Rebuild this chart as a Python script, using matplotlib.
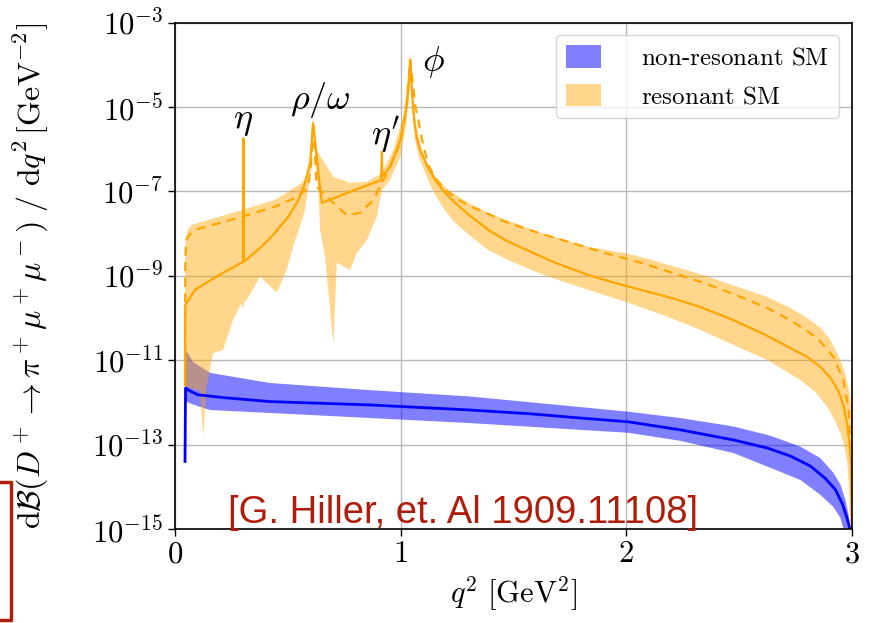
"""D+ -> pi+ mu+ mu- differential branching fraction: resonant vs non-resonant SM."""

import matplotlib

matplotlib.use("Agg")
import matplotlib.pyplot as plt
import numpy as np
from matplotlib.lines import Line2D
from matplotlib.patches import Patch

plt.rcParams["font.family"] = "serif"
plt.rcParams["font.serif"] = ["cmr10", "DejaVu Serif"]
plt.rcParams["mathtext.fontset"] = "cm"
plt.rcParams["axes.formatter.use_mathtext"] = True

# ── data (q^2 in GeV^2, values as log10 of dB/dq^2) ──────────────────────────
# non-resonant SM: central line and band edges
nr_q = [0.0443, 0.0466, 0.0665, 0.102, 0.222, 0.421, 0.865, 1.308, 1.574,
        1.796, 2.009, 2.239, 2.475, 2.624, 2.727, 2.816, 2.882, 2.927, 2.958,
        2.978, 2.993]
nr_c = [-13.40, -11.66, -11.73, -11.82, -11.89, -11.98, -12.06, -12.18, -12.27,
        -12.37, -12.46, -12.65, -12.89, -13.08, -13.27, -13.51, -13.80, -14.07, -14.41,
        -14.74, -15.03]
nr_up_q = [0.0466, 0.049, 0.080, 0.155, 0.421, 0.865, 1.308, 2.009, 2.239,
           2.475, 2.639, 2.772, 2.860, 2.918, 2.949, 2.971, 2.985, 2.993]
nr_up = [-10.55, -10.76, -11.04, -11.30, -11.54, -11.71, -11.86, -12.22, -12.37,
         -12.57, -12.79, -13.05, -13.32, -13.67, -13.95, -14.31, -14.67, -14.98]
nr_lo_q = [0.0466, 0.049, 0.080, 0.155, 0.421, 0.865, 1.308, 2.009, 2.239,
           2.475, 2.639, 2.772, 2.860, 2.918, 2.949, 2.962]
nr_lo = [-11.95, -11.98, -12.05, -12.18, -12.25, -12.37, -12.49, -12.72, -12.91,
         -13.20, -13.55, -13.84, -14.19, -14.48, -14.74, -14.99]

# resonant SM: solid central line
rs_q = [0.0443, 0.0452, 0.0665, 0.0887, 0.146, 0.222, 0.302, 0.303, 0.304,
        0.384, 0.443, 0.502, 0.547, 0.576, 0.599, 0.612, 0.625, 0.639, 0.651,
        0.776, 0.913, 0.917, 0.919, 0.953, 0.998, 1.027, 1.038, 1.042, 1.047,
        1.051, 1.060, 1.071, 1.086, 1.100, 1.122, 1.153, 1.193, 1.242, 1.308,
        1.388, 1.463, 1.538, 1.685, 1.831, 1.951, 2.084, 2.217, 2.328, 2.475,
        2.624, 2.727, 2.801, 2.860, 2.905, 2.940, 2.962, 2.979, 2.989, 2.996,
        2.999, 3.0]
rs_c = [-11.59, -9.69, -9.52, -9.33, -9.14, -8.90, -8.67, -5.74, -8.67,
        -8.31, -7.98, -7.60, -7.20, -6.80, -6.32, -5.38, -6.02, -6.73, -7.27,
        -7.01, -6.73, -6.06, -6.63, -6.42, -5.78, -4.99, -4.36, -3.88, -4.24,
        -4.71, -5.31, -5.73, -6.02, -6.18, -6.44, -6.73, -7.01, -7.27, -7.58,
        -7.91, -8.15, -8.34, -8.69, -8.98, -9.17, -9.36, -9.55, -9.74, -10.05,
        -10.42, -10.71, -10.92, -11.16, -11.42, -11.73, -12.06, -12.53, -13.01, -13.53,
        -14.31, -15.0]

# resonant SM: dashed line
rd_q = [0.0443, 0.0455, 0.050, 0.0665, 0.0887, 0.296, 0.443, 0.547, 0.590,
        0.603, 0.612, 0.621, 0.628, 0.702, 0.761, 0.820, 0.879, 0.917, 0.953,
        0.998, 1.027, 1.042, 1.047, 1.055, 1.064, 1.078, 1.095, 1.122, 1.153,
        1.197, 1.255, 1.316, 1.388, 1.463, 1.610, 1.759, 1.907, 2.084, 2.328,
        2.475, 2.624, 2.727, 2.846, 2.918, 2.962, 2.985, 2.996, 2.999, 3.0]
rd_c = [-11.47, -8.60, -8.15, -8.01, -7.91, -7.60, -7.36, -7.12, -6.89,
        -6.37, -5.38, -6.18, -6.89, -7.27, -7.56, -7.51, -7.20, -6.80, -6.41,
        -5.85, -4.99, -3.88, -4.12, -4.48, -4.95, -5.31, -5.78, -6.37, -6.68,
        -6.96, -7.20, -7.37, -7.53, -7.72, -7.98, -8.22, -8.46, -8.72, -9.14,
        -9.43, -9.76, -10.05, -10.47, -10.92, -11.47, -12.18, -13.01, -14.0, -15.0]

# resonant SM band: upper and lower edges
ru_q = [0.0443, 0.047, 0.055, 0.074, 0.146, 0.296, 0.443, 0.562, 0.590, 0.606,
        0.613, 0.628, 0.701, 0.776, 0.850, 0.917, 0.967, 1.011, 1.033, 1.042,
        1.047, 1.053, 1.064, 1.078, 1.095, 1.122, 1.166, 1.211, 1.294, 1.388,
        1.610, 1.831, 2.009, 2.084, 2.328, 2.624, 2.727, 2.801, 2.860, 2.905,
        2.949, 2.971, 2.985, 2.996, 3.0, 3.0]
ru = [-8.60, -8.15, -7.92, -7.79, -7.68, -7.44, -7.20, -6.80, -6.56, -6.02,
      -5.26, -6.02, -6.65, -6.80, -6.77, -6.56, -6.02, -5.23, -4.19, -3.69,
      -4.12, -4.71, -5.26, -5.66, -6.02, -6.40, -6.73, -6.96, -7.25, -7.51,
      -7.96, -8.31, -8.48, -8.58, -8.96, -9.50, -9.76, -10.00, -10.23, -10.52,
      -10.99, -11.35, -11.66, -12.06, -12.53, -15.0]
rl_q = [0.0443, 0.0665, 0.096, 0.111, 0.125, 0.138, 0.155, 0.169, 0.213, 0.257,
        0.296, 0.303, 0.306, 0.318, 0.377, 0.451, 0.495, 0.532, 0.540, 0.576,
        0.606, 0.613, 0.621, 0.636, 0.643, 0.665, 0.702, 0.717, 0.776, 0.806,
        0.850, 0.894, 0.917, 0.953, 0.998, 1.027, 1.038, 1.042, 1.047, 1.051,
        1.058, 1.064, 1.082, 1.109, 1.135, 1.166, 1.202, 1.242, 1.308, 1.388,
        1.494, 1.610, 1.721, 1.831, 2.009, 2.173, 2.328, 2.475, 2.624, 2.772,
        2.838, 2.890, 2.922, 2.949, 2.967, 2.979, 2.987, 2.990, 2.996]
rl = [-11.63, -11.66, -11.70, -11.72, -12.81, -11.70, -11.20, -10.83, -10.76, -10.05,
      -9.64, -9.81, -9.62, -9.57, -9.02, -9.40, -8.86, -8.15, -8.07, -7.44,
      -6.41, -5.40, -6.25, -7.04, -7.91, -8.55, -10.62, -8.69, -8.86, -8.46,
      -8.15, -7.60, -6.97, -6.73, -6.18, -5.38, -4.19, -3.79, -4.47, -4.95,
      -5.42, -5.78, -6.21, -6.56, -6.89, -7.20, -7.49, -7.75, -8.05, -8.39,
      -8.67, -8.93, -9.14, -9.33, -9.64, -9.95, -10.28, -10.64, -10.99, -11.47,
      -11.76, -12.10, -12.41, -12.72, -13.05, -13.43, -13.95, -14.62, -15.0]

# resonance labels: (text, q^2, log10 value)
res_labels = [(r"$\eta$", 0.303, -5.36), (r"$\rho/\omega$", 0.643, -4.83),
              (r"$\eta'$", 0.931, -5.66), (r"$\phi$", 1.144, -3.93)]

y_ticks = [-15, -13, -11, -9, -7, -5, -3]
x_ticks = [0, 1, 2, 3]

BLUE = "#0000ff"
ORANGE = "#ffa500"
RED = "#af1e0c"


def _pow(vals):
    return np.power(10.0, np.asarray(vals, dtype=float))


fig = plt.figure(figsize=(8.69, 6.23), dpi=100)
ax = fig.add_axes([0.2014, 0.1509, 0.779, 0.8127])
ax.set_yscale("log")

# non-resonant band + line
ax.fill(np.concatenate([nr_up_q, nr_lo_q[::-1]]),
        _pow(np.concatenate([nr_up, nr_lo[::-1]])),
        color=BLUE, alpha=0.5, lw=0)
ax.plot(nr_q, _pow(nr_c), color=BLUE, lw=2.0)

# resonant band + lines
ax.fill(np.concatenate([ru_q, rl_q[::-1]]),
        _pow(np.concatenate([ru, rl[::-1]])),
        color=ORANGE, alpha=0.45, lw=0)
ax.plot(rs_q, _pow(rs_c), color=ORANGE, lw=1.6)
ax.plot(rd_q, _pow(rd_c), color=ORANGE, lw=1.6, ls=(0, (4, 3)))

for txt, q, v in res_labels:
    ax.text(q, 10.0 ** v, txt, fontsize=26, ha="center", va="center")

ax.set_xlim(0, 3)
ax.set_ylim(1e-15, 1e-3)
ax.set_xticks(x_ticks)
ax.set_yticks(_pow(y_ticks))
ax.yaxis.set_minor_locator(matplotlib.ticker.NullLocator())
ax.tick_params(labelsize=22, length=5, width=1)
ax.grid(True, color="#b8b8b8", lw=1.0)
ax.set_axisbelow(True)
for s in ax.spines.values():
    s.set_linewidth(1.2)

ax.set_xlabel(r"$q^2\ [\mathrm{GeV}^2]$", fontsize=22)
ax.set_ylabel(r"$\mathrm{d}\mathcal{B}(D^+\to\pi^+\mu^+\mu^-)\ /\ \mathrm{d}q^2\,[\mathrm{GeV}^{-2}]$",
              fontsize=23)
ax.yaxis.set_label_coords(-0.183, 0.5)

handles = [Patch(facecolor=BLUE, alpha=0.5), Patch(facecolor=ORANGE, alpha=0.45)]
ax.legend(handles, [r"$\text{non-resonant SM}$", r"$\text{resonant SM}$"],
          loc="upper right", fontsize=18, handlelength=1.4, handleheight=1.0,
          handletextpad=1.6, labelspacing=0.55, framealpha=0.8)

ax.text(0.235, 10.0 ** -14.86, "[G. Hiller, et. Al 1909.11108]", color=RED,
        fontsize=27.5, family="Liberation Sans", va="baseline", ha="left")

# red bracket at the bottom-left edge
bx = [0, 11 / 869, 11 / 869, 0]
by = [1 - 482 / 623, 1 - 482 / 623, 1 - 620 / 623, 1 - 620 / 623]
fig.add_artist(Line2D(bx, by, transform=fig.transFigure, color=RED, lw=2.5))

fig.savefig("out.png", dpi=100, facecolor="white")
